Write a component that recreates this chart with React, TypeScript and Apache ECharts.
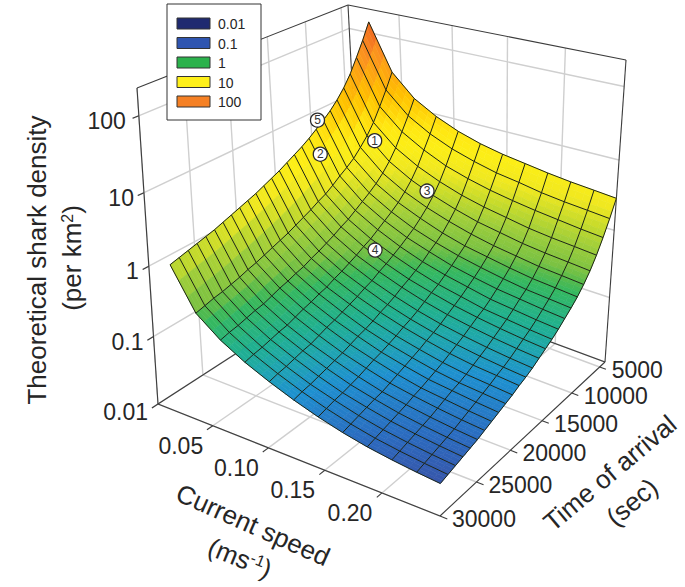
import React, { useEffect, useRef } from "react";
import * as echarts from "echarts";

const speedTicks = [0.05, 0.1, 0.15, 0.2];
const timeTicks = [5000, 10000, 15000, 20000, 25000, 30000];
const densityTicks = [0.01, 0.1, 1, 10, 100];
const densityTickText = ["0.01", "0.1", "1", "10", "100"];
const legendLabels = ["0.01", "0.1", "1", "10", "100"];
const legendColors = ["#1F2A70", "#2F55B0", "#2BB24C", "#FFF01A", "#F58024"];
const speedLines = [0.02, 0.041, 0.062, 0.083, 0.104, 0.125, 0.146, 0.167, 0.188, 0.209, 0.23, 0.25];
const timeLines = [4000, 5000, 6000, 7000, 8000, 9000, 10000, 11000, 12000, 13000, 14000, 15000, 16000, 17000, 18000, 19000, 20000, 21000, 22000, 23000, 24000, 25000, 26000, 27000, 28000, 29000, 30000];
// log10(density), one row per time line, one column per speed line
const logDensity = [
  [2.16, 1.48, 1.16, 0.97, 0.83, 0.73, 0.66, 0.61, 0.56, 0.52, 0.49, 0.46],
  [1.93, 1.26, 0.95, 0.76, 0.62, 0.52, 0.44, 0.39, 0.33, 0.29, 0.26, 0.23],
  [1.72, 1.06, 0.76, 0.57, 0.42, 0.32, 0.24, 0.18, 0.13, 0.09, 0.05, 0.02],
  [1.52, 0.87, 0.57, 0.38, 0.24, 0.13, 0.05, -0.01, -0.07, -0.11, -0.14, -0.17],
  [1.36, 0.72, 0.42, 0.23, 0.09, -0.02, -0.11, -0.17, -0.23, -0.27, -0.3, -0.33],
  [1.23, 0.6, 0.3, 0.11, -0.03, -0.14, -0.23, -0.3, -0.35, -0.4, -0.43, -0.46],
  [1.12, 0.49, 0.2, 0.01, -0.13, -0.25, -0.34, -0.4, -0.46, -0.51, -0.54, -0.57],
  [1.03, 0.41, 0.12, -0.07, -0.22, -0.33, -0.42, -0.49, -0.55, -0.6, -0.63, -0.66],
  [0.95, 0.34, 0.05, -0.14, -0.29, -0.4, -0.5, -0.57, -0.63, -0.67, -0.71, -0.74],
  [0.87, 0.26, -0.02, -0.21, -0.36, -0.48, -0.57, -0.64, -0.71, -0.75, -0.79, -0.82],
  [0.8, 0.19, -0.09, -0.28, -0.42, -0.54, -0.64, -0.71, -0.78, -0.82, -0.86, -0.89],
  [0.74, 0.14, -0.14, -0.33, -0.48, -0.6, -0.69, -0.77, -0.83, -0.88, -0.92, -0.95],
  [0.68, 0.08, -0.2, -0.39, -0.53, -0.65, -0.75, -0.83, -0.89, -0.94, -0.98, -1.01],
  [0.62, 0.03, -0.25, -0.44, -0.59, -0.71, -0.81, -0.89, -0.95, -1.0, -1.04, -1.07],
  [0.57, -0.02, -0.3, -0.49, -0.63, -0.76, -0.86, -0.94, -1.0, -1.05, -1.09, -1.12],
  [0.52, -0.07, -0.34, -0.53, -0.68, -0.8, -0.9, -0.98, -1.05, -1.1, -1.13, -1.16],
  [0.47, -0.11, -0.39, -0.58, -0.72, -0.85, -0.95, -1.03, -1.1, -1.15, -1.18, -1.21],
  [0.43, -0.15, -0.42, -0.61, -0.76, -0.89, -0.99, -1.07, -1.14, -1.19, -1.22, -1.25],
  [0.39, -0.19, -0.46, -0.65, -0.8, -0.92, -1.03, -1.11, -1.18, -1.22, -1.26, -1.29],
  [0.35, -0.23, -0.49, -0.68, -0.83, -0.96, -1.06, -1.15, -1.22, -1.26, -1.3, -1.33],
  [0.31, -0.26, -0.53, -0.72, -0.87, -1.0, -1.1, -1.19, -1.25, -1.3, -1.34, -1.37],
  [0.27, -0.3, -0.57, -0.76, -0.91, -1.03, -1.14, -1.23, -1.29, -1.34, -1.38, -1.41],
  [0.24, -0.33, -0.59, -0.78, -0.93, -1.06, -1.17, -1.25, -1.32, -1.37, -1.41, -1.44],
  [0.21, -0.36, -0.62, -0.81, -0.96, -1.09, -1.2, -1.28, -1.35, -1.4, -1.44, -1.47],
  [0.18, -0.38, -0.65, -0.84, -0.99, -1.12, -1.22, -1.31, -1.38, -1.43, -1.47, -1.5],
  [0.15, -0.41, -0.67, -0.86, -1.01, -1.14, -1.25, -1.34, -1.41, -1.46, -1.5, -1.53],
  [0.12, -0.44, -0.7, -0.89, -1.04, -1.17, -1.28, -1.37, -1.44, -1.49, -1.53, -1.56],
];
const markerNames = ["1", "2", "3", "4", "5"];
const markerSpeed = [0.047, 0.028, 0.098, 0.091, 0.018];
const markerTime = [7800, 12700, 8000, 14600, 11500];
const markerLogDensity = [0.66, 0.65, 0.13, -0.37, 1.05];

const SPEED_MAX = 0.25, T_MIN = 4000, T_MAX = 30000, Z_DEC = 4.35;

function homography(p0: number[], p1: number[], p2: number[], p3: number[]) {
  const dx1 = p1[0] - p2[0], dx2 = p3[0] - p2[0], sx = p0[0] - p1[0] + p2[0] - p3[0];
  const dy1 = p1[1] - p2[1], dy2 = p3[1] - p2[1], sy = p0[1] - p1[1] + p2[1] - p3[1];
  const den = dx1 * dy2 - dx2 * dy1;
  const g = (sx * dy2 - dx2 * sy) / den, h = (dx1 * sy - sx * dy1) / den;
  const a = p1[0] - p0[0] + g * p1[0], b = p3[0] - p0[0] + h * p3[0], c = p0[0];
  const d = p1[1] - p0[1] + g * p1[1], e = p3[1] - p0[1] + h * p3[1], f = p0[1];
  return (u: number, v: number) => {
    const q = g * u + h * v + 1;
    return [(a * u + b * v + c) / q, (d * u + e * v + f) / q];
  };
}
// (u,v): u = speed fraction, v = time fraction
const floorH = homography([362, 272], [605, 362], [440, 516], [158, 404]);
const topH = homography([348, 5], [626, 60], [444, 166], [137, 88]);
function proj(u: number, v: number, w: number) {
  const s = w / (1.1 - 0.1 * w);
  const a = floorH(u, v), b = topH(u, v);
  return [a[0] + (b[0] - a[0]) * s, a[1] + (b[1] - a[1]) * s];
}
const U = (x: number) => x / SPEED_MAX;
const V = (t: number) => (t - T_MIN) / (T_MAX - T_MIN);
const W = (e: number) => (e + 2) / Z_DEC;
const surf = (i: number, j: number) => proj(U(speedLines[j]), V(timeLines[i]), W(logDensity[i][j]));

const stops: [number, string][] = [
  [-2, "#1F2A70"], [-1.6, "#3A50A5"], [-1.4, "#2A6CC0"], [-1.15, "#1E90D0"], [-0.98, "#1FA5B0"], [-0.82, "#20B090"],
  [-0.55, "#35B860"], [-0.45, "#55BA4C"], [-0.35, "#7CC242"], [-0.1, "#A0CE3A"], [0.1, "#C4DA2C"], [0.35, "#F0E820"],
  [0.6, "#FCEE16"], [0.8, "#FFE812"], [1.2, "#FFC000"], [1.75, "#FB9020"], [2.2, "#EC5A20"],
];
const rgb = (h: string) => [1, 3, 5].map((k) => parseInt(h.slice(k, k + 2), 16));
function colorOf(e: number) {
  for (let k = 1; k < stops.length; k++) {
    if (e <= stops[k][0]) {
      const a = stops[k - 1][0], ca = rgb(stops[k - 1][1]), b = stops[k][0], cb = rgb(stops[k][1]);
      const f = Math.max(0, (e - a) / (b - a));
      return `rgb(${ca.map((c, n) => Math.round(c + (cb[n] - c) * f)).join(",")})`;
    }
  }
  return "#EC5A20";
}

const GRID = "#cfcfcf", EDGE = "#3c3c3c", INK = "#262626", FONT = "'Liberation Sans', Arial, sans-serif";
const seg = (a: number[], b: number[], stroke: string, lineWidth: number) => ({
  type: "line", shape: { x1: a[0], y1: a[1], x2: b[0], y2: b[1] }, style: { stroke, lineWidth },
});
const none = (name: string, data: any[], renderItem: any, z: number) => ({
  type: "custom", name, coordinateSystem: "none", data, renderItem, silent: true, z, clip: false,
});

export default function App() {
  const ref = useRef<HTMLDivElement>(null);
  useEffect(() => {
    document.body.style.margin = "0";
    const chart = echarts.init(ref.current!, undefined, { renderer: "svg" });
    const cells: number[][] = [];
    for (let i = 0; i < timeLines.length - 1; i++) for (let j = 0; j < speedLines.length - 1; j++) cells.push([i, j]);
    const frame = none("frame", [0], () => {
      const out: any[] = [];
      const corners = { L: [0, 1], F: [1, 1], R: [1, 0], B: [0, 0] };
      for (const d of densityTicks) {
        const w = W(Math.log10(d));
        out.push(seg(proj(0, 1.025, w), proj(0, 0, w), GRID, 1.4), seg(proj(0, 0, w), proj(1, 0, w), GRID, 1.4));
      }
      for (const t of timeTicks) {
        const v = V(t);
        out.push(seg(proj(0, v, 0), proj(0, v, 1), GRID, 1.4), seg(proj(0, v, 0), proj(1, v, 0), GRID, 1.4));
      }
      for (const s of speedTicks) {
        const u = U(s);
        out.push(seg(proj(u, 0, 0), proj(u, 0, 1), GRID, 1.4), seg(proj(u, 0, 0), proj(u, 1, 0), GRID, 1.4));
      }
      const e = (a: number[], wa: number, b: number[], wb: number) => seg(proj(a[0], a[1], wa), proj(b[0], b[1], wb), EDGE, 1.1);
      out.push(e(corners.L, 0, corners.F, 0), e(corners.F, 0, corners.R, 0), e(corners.R, 0, corners.B, 0), e(corners.B, 0, corners.L, 0));
      out.push(e(corners.L, 0, corners.L, 1), e(corners.B, 0, corners.B, 1), e(corners.R, 0, corners.R, 1));
      out.push(e(corners.L, 1, corners.B, 1), e(corners.B, 1, corners.R, 1));
      for (const d of densityTicks) out.push(seg(proj(0, 1, W(Math.log10(d))), proj(0, 1.025, W(Math.log10(d))), EDGE, 1.1));
      for (const t of timeTicks) out.push(seg(proj(1, V(t), 0), proj(1.025, V(t), 0), EDGE, 1.1));
      for (const s of speedTicks) out.push(seg(proj(U(s), 1, 0), proj(U(s), 1.025, 0), EDGE, 1.1));
      return { type: "group", children: out };
    }, 1);
    const N = 3;
    const surface = none("surface", cells, (_: any, api: any) => {
      const i = api.value(0), j = api.value(1);
      const children: any[] = [];
      const node = (a: number, b: number) => {
        const e = (1 - a) * (1 - b) * logDensity[i][j] + (1 - a) * b * logDensity[i][j + 1] + a * (1 - b) * logDensity[i + 1][j] + a * b * logDensity[i + 1][j + 1];
        const u = speedLines[j] + (speedLines[j + 1] - speedLines[j]) * b;
        const t = timeLines[i] + (timeLines[i + 1] - timeLines[i]) * a;
        return { e, p: proj(U(u), V(t), W(e)) };
      };
      for (let a = 0; a < N; a++) for (let b = 0; b < N; b++) {
        const n = [node(a / N, b / N), node((a + 1) / N, b / N), node((a + 1) / N, (b + 1) / N), node(a / N, (b + 1) / N)];
        const c = colorOf((n[0].e + n[1].e + n[2].e + n[3].e) / 4);
        children.push({ type: "polygon", shape: { points: n.map((x) => x.p) }, style: { fill: c, stroke: c, lineWidth: 0.6 } });
      }
      return { type: "group", children };
    }, 2);
    const mesh = none("mesh", [0], () => {
      const out: any[] = [];
      timeLines.forEach((_, i) => out.push({ type: "polyline", shape: { points: speedLines.map((__, j) => surf(i, j)) }, style: { stroke: "#1c2416", lineWidth: 1, fill: "none" } }));
      speedLines.forEach((_, j) => out.push({ type: "polyline", shape: { points: timeLines.map((__, i) => surf(i, j)) }, style: { stroke: "#1c2416", lineWidth: 1, fill: "none" } }));
      return { type: "group", children: out };
    }, 3);
    const markers = none("markers", markerNames, (params: any) => {
      const k = params.dataIndex;
      const [x, y] = proj(U(markerSpeed[k]), V(markerTime[k]), W(markerLogDensity[k]));
      return { type: "group", children: [
        { type: "circle", shape: { cx: x, cy: y, r: 7 }, style: { fill: "#ffffff", stroke: "#2a2a2a", lineWidth: 1.3 } },
        { type: "text", x, y, style: { text: markerNames[k], fontSize: 12, fontFamily: FONT, fill: "#333", align: "center", verticalAlign: "middle" } },
      ] };
    }, 4);
    const text = (t: string, x: number, y: number, size: number, align = "center", rot = 0, extra: any = {}) => ({
      type: "text", x, y, rotation: (rot * Math.PI) / 180,
      style: { text: t, fontSize: size, fontFamily: FONT, fill: INK, align, verticalAlign: "middle", ...extra },
    });
    const labels = none("labels", [0], () => {
      const out: any[] = [];
      densityTicks.forEach((d, k) => {
        const p = proj(0, 1, W(Math.log10(d)));
        out.push(text(densityTickText[k], p[0] - (k === 4 ? 13 : 10), p[1] + (k === 0 ? 8 : 5), 23, "right"));
      });
      timeTicks.forEach((t) => { const p = proj(1, V(t), 0); out.push(text(String(t), p[0] + 12, p[1] + 3, 23, "left")); });
      speedTicks.forEach((s) => { const p = proj(U(s), 1, 0); out.push(text(s.toFixed(2), p[0] - 32, p[1] + 20, 23)); });
      out.push(text("Theoretical shark density", 37, 260, 26, "center", 90));
      out.push(text("(per km{s|2})", 72, 258, 26, "center", 90, { rich: { s: { fontSize: 16, verticalAlign: "top", fill: INK, fontFamily: FONT } } }));
      out.push(text("Current speed", 253, 525, 26, "center", -24));
      out.push(text("(ms{s|-1})", 240, 558, 26, "center", -22, { rich: { s: { fontSize: 16, verticalAlign: "top", fill: INK, fontFamily: FONT } } }));
      out.push(text("Time of arrival", 610, 473, 26, "center", 40));
      out.push(text("(sec)", 632, 502, 26, "center", 40));
      return { type: "group", children: out };
    }, 5);
    const legendGraphic: any[] = [{ type: "rect", z: 100, shape: { x: 167, y: 4, width: 94, height: 116 }, style: { fill: "#fff", stroke: "#333", lineWidth: 1 } }];
    legendLabels.forEach((l, k) => {
      legendGraphic.push({ type: "rect", z: 101, shape: { x: 177, y: 18 + k * 19.5, width: 33, height: 11 }, style: { fill: legendColors[k], stroke: "#333", lineWidth: 1 } });
      legendGraphic.push({ type: "text", z: 101, x: 218, y: 24 + k * 19.5, style: { text: l, fontSize: 14, fontFamily: FONT, fill: INK, align: "left", verticalAlign: "middle" } });
    });
    chart.setOption({ animation: false, backgroundColor: "#fff", graphic: legendGraphic, series: [frame, surface, mesh, markers, labels] });
    return () => chart.dispose();
  }, []);
  return <div ref={ref} style={{ position: "fixed", left: 0, top: 0, width: 685, height: 587 }} />;
}
